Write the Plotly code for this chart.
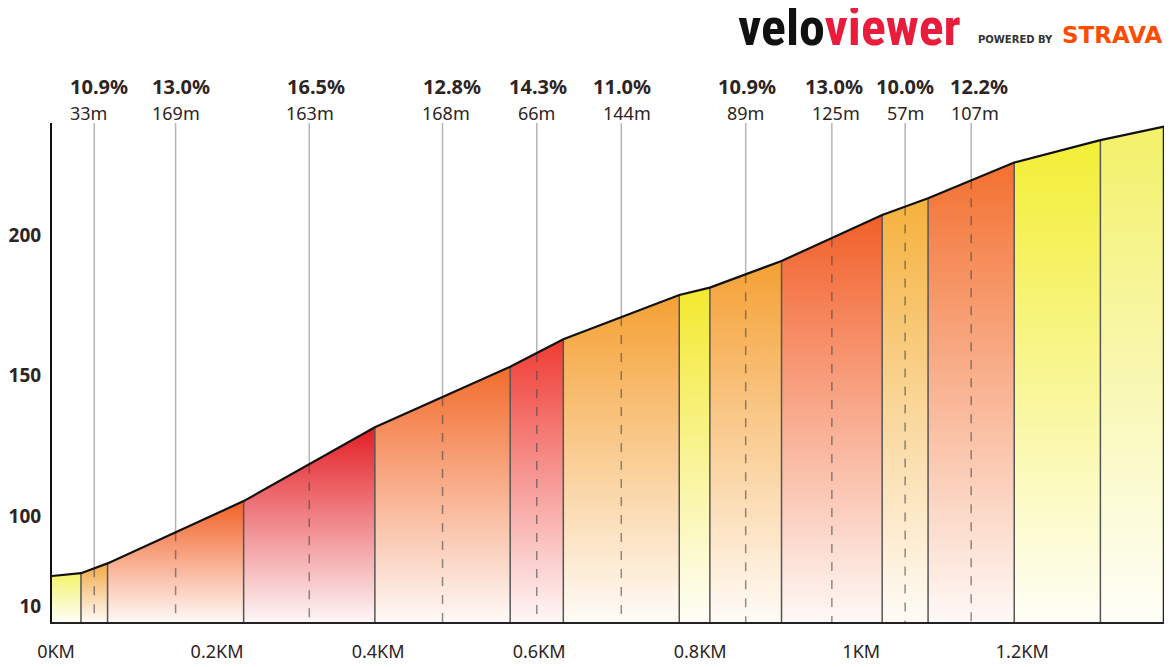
import plotly.graph_objects as go

# ---- data ----
dist_km = [0, 0.036, 0.069, 0.238, 0.401, 0.569, 0.635, 0.779, 0.817, 0.906, 1.031, 1.088, 1.195, 1.302, 1.381]
elev_m = [78.6, 79.6, 83.1, 105.3, 131.6, 153.2, 163.0, 178.8, 181.4, 190.9, 207.3, 213.3, 226.0, 234.0, 238.8]
seg_colors = ['#f3f36a', '#f3a845', '#f26026', '#e31e24', '#f26b2c', '#ef3b33', '#f5a033',
              '#f3e92f', '#f5a033', '#f25f28', '#f5b13c', '#f37030', '#f3ee34', '#f3f168']
labeled_segments = [1, 2, 3, 4, 5, 6, 8, 9, 10, 11]
label_pct = ['10.9%', '13.0%', '16.5%', '12.8%', '14.3%', '11.0%', '10.9%', '13.0%', '10.0%', '12.2%']
label_len = ['33m', '169m', '163m', '168m', '66m', '144m', '89m', '125m', '57m', '107m']
x_tickvals = [0, 0.2, 0.4, 0.6, 0.8, 1.0, 1.2]
x_ticktext = ['0KM', '0.2KM', '0.4KM', '0.6KM', '0.8KM', '1KM', '1.2KM']
y_tickvals = [67.7, 100, 150, 200]
y_ticktext = ['10', '100', '150', '200']

# small pixel nudges of the label texts (layout only)
pct_xshift = [5, 5, 7, 9, 1, 1, 1, 2, 0, 8]
len_xshift = [-6, 0, 1, 3, 0, 6, 0, 4, 0, 4]

Y_MIN, Y_MAX = 62.2, 240.1
TEXT = '#2d2424'
FONT = 'Noto Sans, Open Sans, sans-serif'


def rgba(hexc, a):
    h = hexc.lstrip('#')
    r, g, b = int(h[0:2], 16), int(h[2:4], 16), int(h[4:6], 16)
    return f'rgba({r},{g},{b},{a})'


fig = go.Figure()

# filled segments with vertical gradient
for i, c in enumerate(seg_colors):
    x0, x1 = dist_km[i], dist_km[i + 1]
    y0, y1 = elev_m[i], elev_m[i + 1]
    fig.add_trace(go.Scatter(
        x=[x0, x1, x1, x0, x0], y=[y0, y1, Y_MIN, Y_MIN, y0],
        mode='lines', line=dict(width=0), fill='toself',
        fillgradient=dict(type='vertical', colorscale=[[0, rgba(c, 0.04)], [1, rgba(c, 1)]]),
        hoverinfo='skip', showlegend=False))

# segment boundary lines
bx, by = [], []
for i in range(1, len(dist_km) - 1):
    bx += [dist_km[i], dist_km[i], None]
    by += [elev_m[i], Y_MIN, None]
fig.add_trace(go.Scatter(x=bx, y=by, mode='lines', line=dict(color='#555555', width=1.5),
                         hoverinfo='skip', showlegend=False))
fig.add_trace(go.Scatter(x=[dist_km[-1], dist_km[-1]], y=[elev_m[-1], Y_MIN], mode='lines',
                         line=dict(color='#222', width=2.5), hoverinfo='skip', showlegend=False))

# label guide lines
ux, uy, dx, dy = [], [], [], []
mids = []
for s in labeled_segments:
    xm = (dist_km[s] + dist_km[s + 1]) / 2
    em = (elev_m[s] + elev_m[s + 1]) / 2
    mids.append(xm)
    ux += [xm, xm, None]
    uy += [Y_MAX, em, None]
    dx += [xm, xm, None]
    dy += [em, Y_MIN, None]
fig.add_trace(go.Scatter(x=ux, y=uy, mode='lines', line=dict(color='#b5b5b5', width=1.5),
                         hoverinfo='skip', showlegend=False))
fig.add_trace(go.Scatter(x=dx, y=dy, mode='lines',
                         line=dict(color='rgba(70,70,70,0.6)', width=1.5, dash='9px,9px'),
                         hoverinfo='skip', showlegend=False))

# profile line
fig.add_trace(go.Scatter(x=dist_km, y=elev_m, mode='lines', line=dict(color='#111', width=2.2),
                         hoverinfo='skip', showlegend=False))

# labels
for xm, p, l, sp, sl in zip(mids, label_pct, label_len, pct_xshift, len_xshift):
    fig.add_annotation(x=xm, y=1.0727, xref='x', yref='paper', text=f'<b>{p}</b>', showarrow=False,
                       xshift=sp,
                       font=dict(family=FONT, size=20, color=TEXT), xanchor='center', yanchor='middle')
    fig.add_annotation(x=xm, y=1.0206, xref='x', yref='paper', text=l, showarrow=False,
                       xshift=sl,
                       font=dict(family=FONT, size=18, color=TEXT), xanchor='center', yanchor='middle')

# logo
fig.add_annotation(x=(963 - 52) / 1112, y=(622 - 27) / 499, xref='paper', yref='paper',
                   text="<b>velo</b><b><span style='color:#ea1c3c'>viewer</span></b>",
                   showarrow=False, xanchor='right', yanchor='middle',
                   font=dict(family='Liberation Sans Narrow, Roboto Condensed, Arial Narrow, sans-serif',
                             size=52, color='#111'))
fig.add_annotation(x=(976 - 52) / 1112, y=(622 - 40) / 499, xref='paper', yref='paper',
                   text='<b>POWERED BY</b>', showarrow=False, xanchor='left', yanchor='middle',
                   font=dict(family='DejaVu Sans, sans-serif', size=10, color='#333'))
fig.add_annotation(x=(1164 - 52) / 1112, y=(622 - 35) / 499, xref='paper', yref='paper',
                   text='<b>STRAVA</b>', showarrow=False, xanchor='right', yanchor='middle',
                   font=dict(family='DejaVu Sans, sans-serif', size=23, color='#fc4c02'))

# page body has an 8px margin: figure is offset so the plot lands on the 1172x667 viewport
fig.update_layout(
    width=1164, height=667,
    margin=dict(l=44, r=8, t=115, b=53),
    paper_bgcolor='white', plot_bgcolor='white',
    xaxis=dict(range=[dist_km[0], dist_km[-1]], tickvals=x_tickvals, ticktext=x_ticktext,
               showgrid=False, zeroline=False, showline=True, linecolor='#222', linewidth=2,
               ticks='', tickfont=dict(family=FONT, size=18, color=TEXT),
               ticklabelstandoff=12, ticklabelshift=4, automargin=False),
    yaxis=dict(range=[Y_MIN, Y_MAX], tickvals=y_tickvals, ticktext=y_ticktext,
               showgrid=False, zeroline=False, showline=True, linecolor='#111', linewidth=2,
               ticks='', tickfont=dict(family=FONT, size=19, color=TEXT, weight='bold'),
               ticklabelstandoff=5, automargin=False),
)

fig.write_html('out.html')
